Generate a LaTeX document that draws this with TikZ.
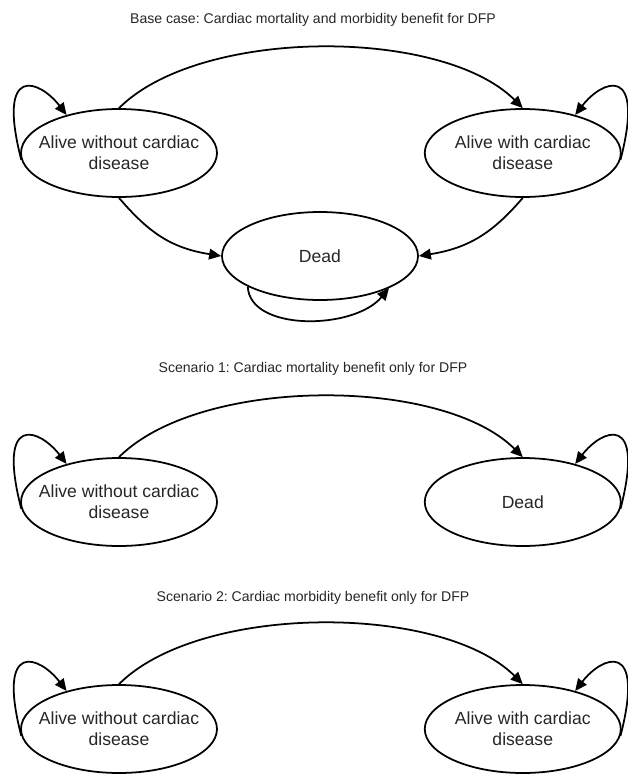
\documentclass[tikz,border=0pt]{standalone}
\usepackage{fontspec}
\setmainfont{Liberation Sans}
\usetikzlibrary{positioning, shapes.geometric, arrows.meta}
\frenchspacing

\begin{document}
\begin{tikzpicture}[x=0.03cm, y=-0.03cm, state/.style={ellipse,draw,line width=1.5pt,minimum width=5.88cm,minimum height=2.64cm,inner xsep=-0.5cm,inner ysep=0pt,align=center,font=\fontsize{15}{18}\selectfont,text=black!85}, title/.style={font=\fontsize{12}{14}\selectfont,text=black!85}, link/.style={-{Triangle[length=3.6mm,width=3.2mm]}, line width=1.5pt}, node distance = 6.18cm ]
\useasboundingbox (0,0) rectangle (628,774);
% base case
\node (t1) [title] at (313,20) {Base case: Cardiac mortality and morbidity benefit for DFP};
\node (a1) [state] at (119,153) {Alive without cardiac\\disease};
\node (b1) [state, right=of a1] {Alive with cardiac\\disease};
\node (d1) [state] at (320,256) {Dead};
\draw [link] (a1.184) .. controls +(-25,-97) and +(-27,-35) .. (a1.144);
\draw [link] (b1.356) .. controls +(25,-97) and +(27,-35) .. (b1.36);
\draw [link] (a1.north) .. controls +(81,-81) and +(-81,-81) .. (b1.north);
\draw [link] (a1.south) .. controls +(30,35) and +(-50,-8) .. (d1.west);
\draw [link] (b1.south) .. controls +(-30,35) and +(50,-8) .. (d1.east);
\draw [link] (d1.203) .. controls +(2,45) and +(-35,42) .. (d1.335);

% scenario 1
\node (t2) [title] at (313,369) {Scenario 1: Cardiac mortality benefit only for DFP};
\node (a2) [state] at (119,502) {Alive without cardiac\\disease};
\node (d2) [state, right=of a2] {Dead};
\draw [link] (a2.184) .. controls +(-25,-97) and +(-27,-35) .. (a2.144);
\draw [link] (d2.356) .. controls +(25,-97) and +(27,-35) .. (d2.36);
\draw [link] (a2.north) .. controls +(81,-81) and +(-81,-81) .. (d2.north);

% scenario 2
\node (t3) [title] at (313,598) {Scenario 2: Cardiac morbidity benefit only for DFP};
\node (a3) [state] at (119,729) {Alive without cardiac\\disease};
\node (b3) [state, right=of a3] {Alive with cardiac\\disease};
\draw [link] (a3.184) .. controls +(-25,-97) and +(-27,-35) .. (a3.144);
\draw [link] (b3.356) .. controls +(25,-97) and +(27,-35) .. (b3.36);
\draw [link] (a3.north) .. controls +(81,-81) and +(-81,-81) .. (b3.north);
\end{tikzpicture}
\end{document}
